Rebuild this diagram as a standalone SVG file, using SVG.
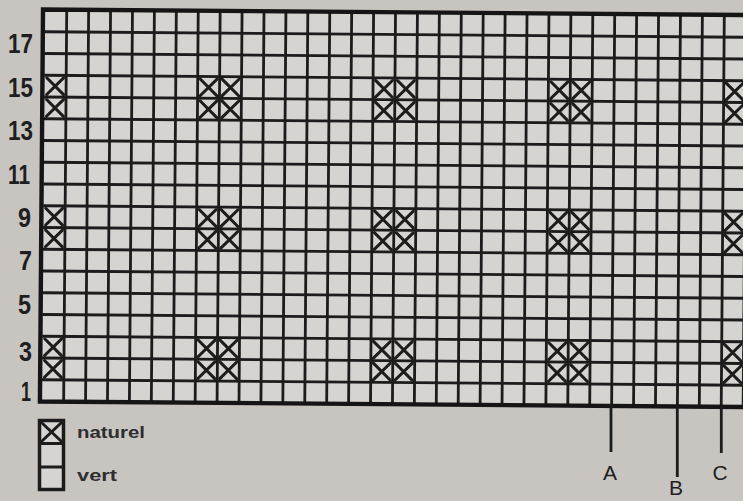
<svg xmlns="http://www.w3.org/2000/svg" xmlns:xlink="http://www.w3.org/1999/xlink" width="743" height="501" viewBox="0 0 743 501">
<style>
.ln{stroke:#1c1c1c;stroke-width:2.8;fill:none}
.bd{stroke:#151515;stroke-width:4.4;fill:none}
.xs{stroke:#1c1c1c;stroke-width:3;fill:none;stroke-linecap:round}
.num{font-family:"Liberation Sans",Arial,sans-serif;font-weight:bold;font-size:28px;fill:#1e1e1e}
.lbl{font-family:"Liberation Sans",Arial,sans-serif;font-size:21px;fill:#1e1e1e}
.leg{font-family:"Liberation Sans",Arial,sans-serif;font-weight:bold;font-size:17px;fill:#2e2e2e}
</style>
<defs>
<path id="xc" class="xs" d="M2.5,2.5 L19.4,19.25 M19.4,2.5 L2.5,19.25"/>
</defs>
<rect x="0" y="0" width="743" height="501" fill="#c8c5c1"/>
<g id="chart" transform="rotate(0.45 44.8 10)">
<rect x="44.8" y="10" width="723.4" height="391.5" fill="#d6d4d1"/>
<path id="vlines" class="ln" d="M66.72,10V401.5 M88.64,10V401.5 M110.56,10V401.5 M132.48,10V401.5 M154.4,10V401.5 M176.32,10V401.5 M198.24,10V401.5 M220.16,10V401.5 M242.08,10V401.5 M264,10V401.5 M285.92,10V401.5 M307.84,10V401.5 M329.76,10V401.5 M351.68,10V401.5 M373.6,10V401.5 M395.52,10V401.5 M417.44,10V401.5 M439.36,10V401.5 M461.28,10V401.5 M483.2,10V401.5 M505.12,10V401.5 M527.04,10V401.5 M548.96,10V401.5 M570.88,10V401.5 M592.8,10V401.5 M614.72,10V401.5 M636.64,10V401.5 M658.56,10V401.5 M680.48,10V401.5 M702.4,10V401.5 M724.32,10V401.5 M746.24,10V401.5"/>
<path id="hlines" class="ln" d="M44.8,31.75H770 M44.8,53.5H770 M44.8,75.25H770 M44.8,97H770 M44.8,118.75H770 M44.8,140.5H770 M44.8,162.25H770 M44.8,184H770 M44.8,205.75H770 M44.8,227.5H770 M44.8,249.25H770 M44.8,271H770 M44.8,292.75H770 M44.8,314.5H770 M44.8,336.25H770 M44.8,358H770 M44.8,379.75H770"/>
<path id="border" class="bd" d="M770,9.5H43V401.5H770"/>
<g id="motifs">
<use href="#xc" x="44.8" y="75.25"/><use href="#xc" x="44.8" y="97"/>
<use href="#xc" x="44.8" y="205.75"/><use href="#xc" x="44.8" y="227.5"/>
<use href="#xc" x="44.8" y="336.25"/><use href="#xc" x="44.8" y="358"/>
<use href="#xc" x="198.24" y="75.25"/><use href="#xc" x="198.24" y="97"/><use href="#xc" x="220.16" y="75.25"/><use href="#xc" x="220.16" y="97"/>
<use href="#xc" x="198.24" y="205.75"/><use href="#xc" x="198.24" y="227.5"/><use href="#xc" x="220.16" y="205.75"/><use href="#xc" x="220.16" y="227.5"/>
<use href="#xc" x="198.24" y="336.25"/><use href="#xc" x="198.24" y="358"/><use href="#xc" x="220.16" y="336.25"/><use href="#xc" x="220.16" y="358"/>
<use href="#xc" x="373.6" y="75.25"/><use href="#xc" x="373.6" y="97"/><use href="#xc" x="395.52" y="75.25"/><use href="#xc" x="395.52" y="97"/>
<use href="#xc" x="373.6" y="205.75"/><use href="#xc" x="373.6" y="227.5"/><use href="#xc" x="395.52" y="205.75"/><use href="#xc" x="395.52" y="227.5"/>
<use href="#xc" x="373.6" y="336.25"/><use href="#xc" x="373.6" y="358"/><use href="#xc" x="395.52" y="336.25"/><use href="#xc" x="395.52" y="358"/>
<use href="#xc" x="548.96" y="75.25"/><use href="#xc" x="548.96" y="97"/><use href="#xc" x="570.88" y="75.25"/><use href="#xc" x="570.88" y="97"/>
<use href="#xc" x="548.96" y="205.75"/><use href="#xc" x="548.96" y="227.5"/><use href="#xc" x="570.88" y="205.75"/><use href="#xc" x="570.88" y="227.5"/>
<use href="#xc" x="548.96" y="336.25"/><use href="#xc" x="548.96" y="358"/><use href="#xc" x="570.88" y="336.25"/><use href="#xc" x="570.88" y="358"/>
<use href="#xc" x="724.32" y="75.25"/><use href="#xc" x="724.32" y="97"/>
<use href="#xc" x="724.32" y="205.75"/><use href="#xc" x="724.32" y="227.5"/>
<use href="#xc" x="724.32" y="336.25"/><use href="#xc" x="724.32" y="358"/>
</g>
</g>
<g id="rownumbers" text-anchor="end">
<text class="num" x="33" y="53" textLength="25" lengthAdjust="spacingAndGlyphs">17</text>
<text class="num" x="33" y="97" textLength="25" lengthAdjust="spacingAndGlyphs">15</text>
<text class="num" x="33" y="140" textLength="25" lengthAdjust="spacingAndGlyphs">13</text>
<text class="num" x="30" y="184" textLength="22" lengthAdjust="spacingAndGlyphs">11</text>
<text class="num" x="31" y="227" textLength="13" lengthAdjust="spacingAndGlyphs">9</text>
<text class="num" x="32" y="270" textLength="13" lengthAdjust="spacingAndGlyphs">7</text>
<text class="num" x="31" y="314" textLength="13" lengthAdjust="spacingAndGlyphs">5</text>
<text class="num" x="32" y="361" textLength="13" lengthAdjust="spacingAndGlyphs">3</text>
<text class="num" x="31" y="401" textLength="10" lengthAdjust="spacingAndGlyphs">1</text>
</g>
<g id="markers">
<path class="ln" d="M611,404V452 M677.3,405V477 M721.3,406V453"/>
<text class="lbl" x="610" y="480" text-anchor="middle">A</text>
<text class="lbl" x="676" y="495" text-anchor="middle">B</text>
<text class="lbl" x="720" y="480" text-anchor="middle">C</text>
</g>
<g id="legend">
<rect x="39.5" y="420.5" width="24" height="69" fill="#d6d4d1" stroke="#1c1c1c" stroke-width="3.5"/>
<path class="ln" d="M39.5,443.5H63.5 M39.5,467H63.5"/>
<path class="xs" d="M42,423 L61,441 M61,423 L42,441"/>
<text class="leg" x="77" y="438" textLength="68" lengthAdjust="spacingAndGlyphs">naturel</text>
<text class="leg" x="77" y="481" textLength="40" lengthAdjust="spacingAndGlyphs">vert</text>
</g>
</svg>
